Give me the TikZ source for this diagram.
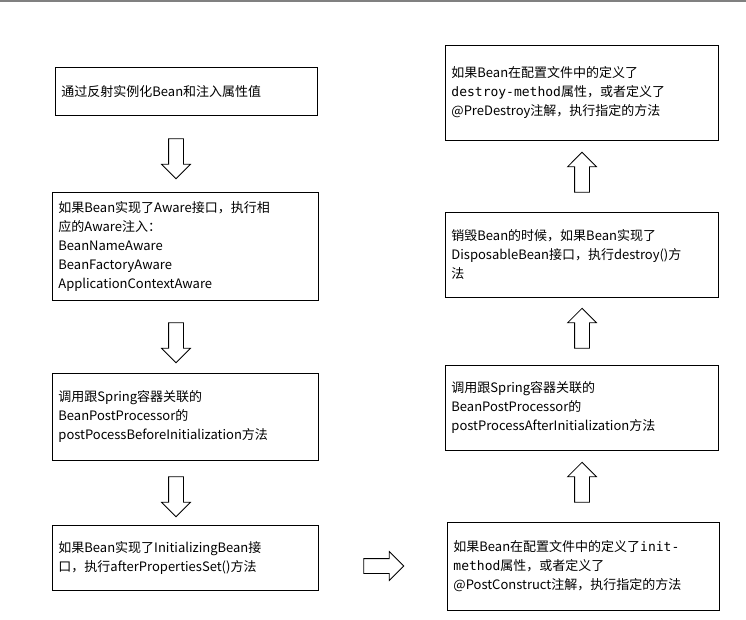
\documentclass[tikz,border=0pt]{standalone}
\usepackage{fontspec}
\setmainfont{Noto Sans CJK SC}
\setmonofont{DejaVu Sans Mono}
\usetikzlibrary{shapes.arrows}
\tikzset{%
  % Specifications for style of nodes:
        base/.style = {rectangle, draw=black, line width=0.9pt,
                       align=left, anchor=north west, inner sep=0pt,
                       font=\fontsize{13}{19}\selectfont},
     stepbox/.style = {base},
    bigarrow/.style = {single arrow, draw=black, line width=0.8pt,
                       minimum width=28pt, minimum height=40pt,
                       single arrow head extend=7pt, inner sep=7pt},
}
\newcommand{\boxat}[6]{% name, x1, y1, x2, y2, text
  \node (#1) [stepbox, minimum width=\dimexpr#4pt-#2pt\relax,
    minimum height=\dimexpr#5pt-#3pt\relax] at (#2pt,-#3pt)
    {\hspace*{6pt}\parbox{\dimexpr#4pt-#2pt-12pt\relax}{#6}\hspace*{6pt}};}
\begin{document}
\begin{tikzpicture}[x=1pt,y=1pt]
  \useasboundingbox (0,0) rectangle (746,-619);
  \draw[gray, line width=2pt] (0,-1) -- (746,-1);
  % left column
  \boxat{instantiate}{55}{67}{317}{115}{通过反射实例化Bean和注入属性值}
  \boxat{aware}{52}{192}{318}{300}{如果Bean实现了Aware接口，执行相\\应的Aware注入：\\
    BeanNameAware\\BeanFactoryAware\\ApplicationContextAware}
  \boxat{beforeInit}{52}{373}{318}{460}{调用跟Spring容器关联的\\BeanPostProcessor的\\
    postPocessBeforeInitialization方法}
  \boxat{afterProps}{52}{525}{318}{590}{如果Bean实现了InitializingBean接\\
    口，执行afterPropertiesSet()方法}
  % right column
  \boxat{initMethod}{447}{522}{719}{610}{如果Bean在配置文件中的定义了\texttt{init-}\\
    \texttt{method}属性，或者定义了\\@PostConstruct注解，执行指定的方法}
  \boxat{afterInit}{445}{365}{718}{450}{调用跟Spring容器关联的\\BeanPostProcessor的\\
    postProcessAfterInitialization方法}
  \boxat{disposable}{445}{212}{718}{297}{销毁Bean的时候，如果Bean实现了\\
    DisposableBean接口，执行destroy()方\\法}
  \boxat{destroyMethod}{445}{45}{718}{140}{如果Bean在配置文件中的定义了\\
    \texttt{destroy-method}属性，或者定义了\\@PreDestroy注解，执行指定的方法}
  % hollow arrows between the boxes
  \node (a1) [bigarrow, shape border rotate=270] at (176,-155) {};
  \node (a2) [bigarrow, shape border rotate=270] at (176,-339) {};
  \node (a3) [bigarrow, shape border rotate=270] at (176,-493) {};
  \node (a4) [bigarrow] at (380,-566) {};
  \node (a5) [bigarrow, shape border rotate=90] at (582,-486) {};
  \node (a6) [bigarrow, shape border rotate=90] at (582,-332) {};
  \node (a7) [bigarrow, shape border rotate=90] at (582,-176) {};
\end{tikzpicture}
\end{document}
